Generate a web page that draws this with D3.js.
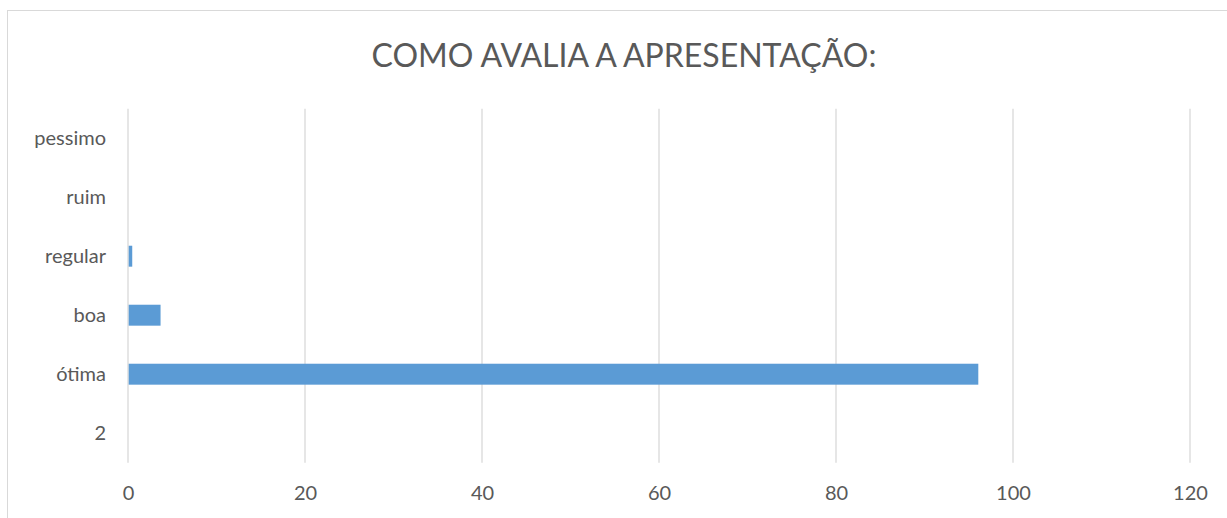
<!DOCTYPE html>
<html>
<head>
<meta charset="utf-8">
<script src="https://cdn.jsdelivr.net/npm/d3@7"></script>
<style>
  html, body { margin: 0; padding: 0; background: #fff; }
  svg { display: block; font-family: Lato, "Liberation Sans", sans-serif; }
</style>
</head>
<body>
<svg id="chart" width="1227" height="518"></svg>
<script>
// categories top to bottom, as in the picture
const categories = ["pessimo", "ruim", "regular", "boa", "ótima", "2"];
const values = [0, 0, 0.4, 3.6, 96, 0];
const xTicks = [0, 20, 40, 60, 80, 100, 120];
const title = "COMO AVALIA A APRESENTAÇÃO:";

const data = categories.map((c, i) => ({ category: c, value: values[i] }));

const svg = d3.select("#chart");
const width = 1227, height = 518;
const font = "Lato, 'Liberation Sans', sans-serif";

// chart frame (runs past the right/bottom edge)
svg.append("rect")
  .attr("x", 7.5).attr("y", 10.5)
  .attr("width", 1240).attr("height", 520)
  .attr("fill", "#fff")
  .attr("stroke", "#d9d9d9");

const margin = { top: 108.7, left: 128, right: width - 1190, bottom: height - 462.7 };
const innerWidth = width - margin.left - margin.right;
const innerHeight = height - margin.top - margin.bottom;

const xScale = d3.scaleLinear().domain([0, 120]).range([0, innerWidth]);
const yScale = d3.scaleBand()
  .domain(categories)
  .range([0, innerHeight])
  .paddingInner(0.645)
  .paddingOuter(0.3225);

const g = svg.append("g")
  .attr("transform", `translate(${margin.left},${margin.top})`);

// vertical gridlines
g.selectAll("line.grid")
  .data(xTicks)
  .join("line")
  .attr("class", "grid")
  .attr("x1", (d) => xScale(d)).attr("x2", (d) => xScale(d))
  .attr("y1", 0).attr("y2", innerHeight)
  .attr("stroke", "#d9d9d9")
  .attr("stroke-width", 1.3);

// bars
g.selectAll("rect.bar")
  .data(data)
  .join("rect")
  .attr("class", "bar")
  .attr("x", xScale(0) + 0.7)
  .attr("y", (d) => yScale(d.category))
  .attr("width", (d) => Math.max(0, xScale(d.value) - xScale(0)))
  .attr("height", yScale.bandwidth())
  .attr("fill", "#5b9bd5");

// x axis
const xAxis = g.append("g")
  .attr("transform", `translate(0,${innerHeight})`)
  .attr("font-family", font)
  .call(d3.axisBottom(xScale).tickValues(xTicks).tickSize(0).tickPadding(23));
xAxis.attr("font-family", font);
xAxis.select(".domain").remove();
xAxis.selectAll("text")
  .attr("fill", "#595959")
  .style("font-size", "20px");

// y axis
const yAxis = g.append("g")
  .call(d3.axisLeft(yScale).tickSize(0).tickPadding(22));
yAxis.attr("font-family", font);
yAxis.select(".domain").remove();
yAxis.selectAll("text")
  .attr("fill", "#595959")
  .style("font-size", "20px");

// title
svg.append("text")
  .attr("x", 624)
  .attr("y", 67)
  .attr("text-anchor", "middle")
  .attr("fill", "#595959")
  .style("font-size", "32px")
  .text(title);
</script>
</body>
</html>
